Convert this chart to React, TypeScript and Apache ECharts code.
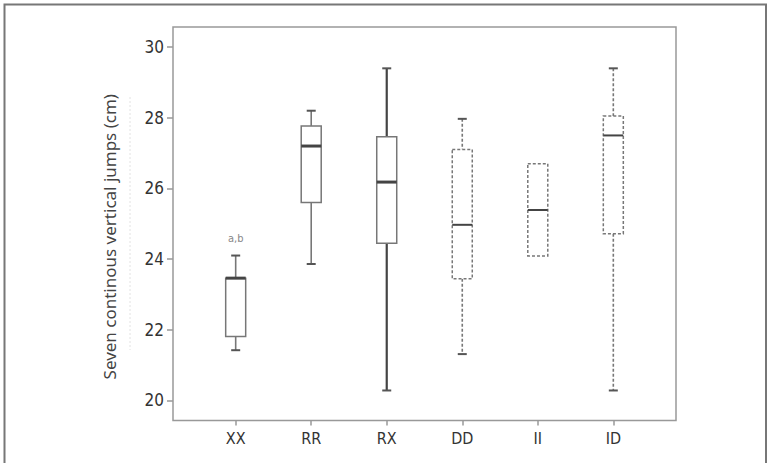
import React, { useEffect, useRef } from "react";
import * as echarts from "echarts";

const categories = ["XX", "RR", "RX", "DD", "II", "ID"];
const mins = [21.42, 23.86, 20.28, 21.31, 24.09, 20.28];
const q1s = [21.81, 25.6, 24.45, 23.44, 24.09, 24.72];
const medians = [23.46, 27.2, 26.18, 24.97, 25.39, 27.5];
const q3s = [23.46, 27.77, 27.46, 27.1, 26.7, 28.05];
const maxs = [24.1, 28.2, 29.4, 27.97, 26.7, 29.4];
const annotations = ["a,b", "", "", "", "", ""];
const yTicks = [20, 22, 24, 26, 28, 30];
const xPositions = [1, 2, 3, 4, 5, 6];

const dashedGroups = ["DD", "II", "ID"];
const FONT = "'Liberation Sans Narrow', 'DejaVu Sans Condensed', 'Noto Sans', sans-serif";

export default function App() {
  const ref = useRef<HTMLDivElement>(null);
  useEffect(() => {
    if (!ref.current) return;
    const chart = echarts.init(ref.current, null, { renderer: "svg" });
    const data = categories.map((c, i) => [
      xPositions[i], mins[i], q1s[i], medians[i], q3s[i], maxs[i], i,
    ]);
    const renderItem = (params: any, api: any) => {
      const x = api.value(0);
      const idx = api.value(6);
      const name = categories[idx];
      const dashed = dashedGroups.indexOf(name) >= 0;
      const heavy = name === "RX";
      const lineDash = dashed ? [3, 2] : null;
      const pMin = api.coord([x, api.value(1)]);
      const pQ1 = api.coord([x, api.value(2)]);
      const pMed = api.coord([x, api.value(3)]);
      const pQ3 = api.coord([x, api.value(4)]);
      const pMax = api.coord([x, api.value(5)]);
      const cx = pMin[0];
      const bw = 10;
      const cw = 4.5;
      const wStroke = heavy ? "#444" : "#777";
      const wWidth = heavy ? 2.2 : 1.6;
      const children: any[] = [];
      if (pMax[1] < pQ3[1] - 0.5) {
        children.push({ type: "line", shape: { x1: cx, y1: pMax[1], x2: cx, y2: pQ3[1] }, style: { stroke: wStroke, lineWidth: wWidth, lineDash } });
        children.push({ type: "line", shape: { x1: cx - cw, y1: pMax[1], x2: cx + cw, y2: pMax[1] }, style: { stroke: "#555", lineWidth: 2 } });
      }
      if (pMin[1] > pQ1[1] + 0.5) {
        children.push({ type: "line", shape: { x1: cx, y1: pQ1[1], x2: cx, y2: pMin[1] }, style: { stroke: wStroke, lineWidth: wWidth, lineDash } });
        children.push({ type: "line", shape: { x1: cx - cw, y1: pMin[1], x2: cx + cw, y2: pMin[1] }, style: { stroke: "#555", lineWidth: 2 } });
      }
      children.push({
        type: "rect",
        shape: { x: cx - bw, y: pQ3[1], width: bw * 2, height: pQ1[1] - pQ3[1] },
        style: { fill: "#fff", stroke: "#777", lineWidth: 1.5, lineDash },
      });
      children.push({
        type: "line",
        shape: { x1: cx - bw, y1: pMed[1], x2: cx + bw, y2: pMed[1] },
        style: { stroke: "#444", lineWidth: heavy || name === "XX" || name === "RR" ? 3 : 2 },
      });
      if (annotations[idx]) {
        children.push({
          type: "text",
          x: cx,
          y: pMax[1] - 17,
          style: { text: annotations[idx], fill: "#888", font: `11px ${FONT}`, align: "center", verticalAlign: "middle" },
        });
      }
      return { type: "group", children };
    };
    chart.setOption({
      animation: false,
      grid: { left: 173, right: 95, top: 27, bottom: 42.5, show: true, borderColor: "#999", borderWidth: 1.5, backgroundColor: "transparent" },
      xAxis: {
        type: "value",
        min: 0.17,
        max: 6.83,
        splitLine: { show: false },
        axisLine: { show: false },
        axisTick: { show: true, customValues: xPositions, length: 5, lineStyle: { color: "#999", width: 1.5 } },
        axisLabel: {
          customValues: xPositions,
          formatter: (v: number) => categories[Math.round(v) - 1] || "",
          color: "#333",
          fontSize: 16,
          fontFamily: FONT,
          margin: 10,
        },
      },
      yAxis: {
        type: "value",
        min: 19.43,
        max: 30.57,
        splitLine: { show: false },
        axisLine: { show: false },
        axisTick: { show: true, customValues: yTicks, length: 6, lineStyle: { color: "#999", width: 1.5 } },
        axisLabel: { customValues: yTicks, color: "#333", fontSize: 17, fontFamily: FONT, margin: 9 },
        name: "Seven continous vertical jumps (cm)",
        nameLocation: "middle",
        nameRotate: 90,
        nameGap: 55,
        nameTextStyle: { color: "#444", fontSize: 17, fontFamily: "'Noto Sans', 'Open Sans', sans-serif", padding: [0, 26, 0, 0] },
      },
      graphic: [
        { type: "rect", shape: { x: 4.5, y: 4.5, width: 761.5, height: 470 }, style: { fill: "none", stroke: "#777", lineWidth: 2 }, silent: true },
        { type: "line", shape: { x1: 130, y1: 97, x2: 130, y2: 350 }, style: { stroke: "#e2e2e2", lineWidth: 1, lineDash: [2, 2] }, silent: true },
      ],
      series: [
        {
          type: "custom",
          renderItem,
          encode: { x: 0, y: [1, 2, 3, 4, 5] },
          data,
          clip: false,
        },
      ],
    });
    return () => chart.dispose();
  }, []);
  return <div ref={ref} style={{ width: 771, height: 463, position: "absolute", left: 0, top: 0, background: "#fff" }} />;
}
